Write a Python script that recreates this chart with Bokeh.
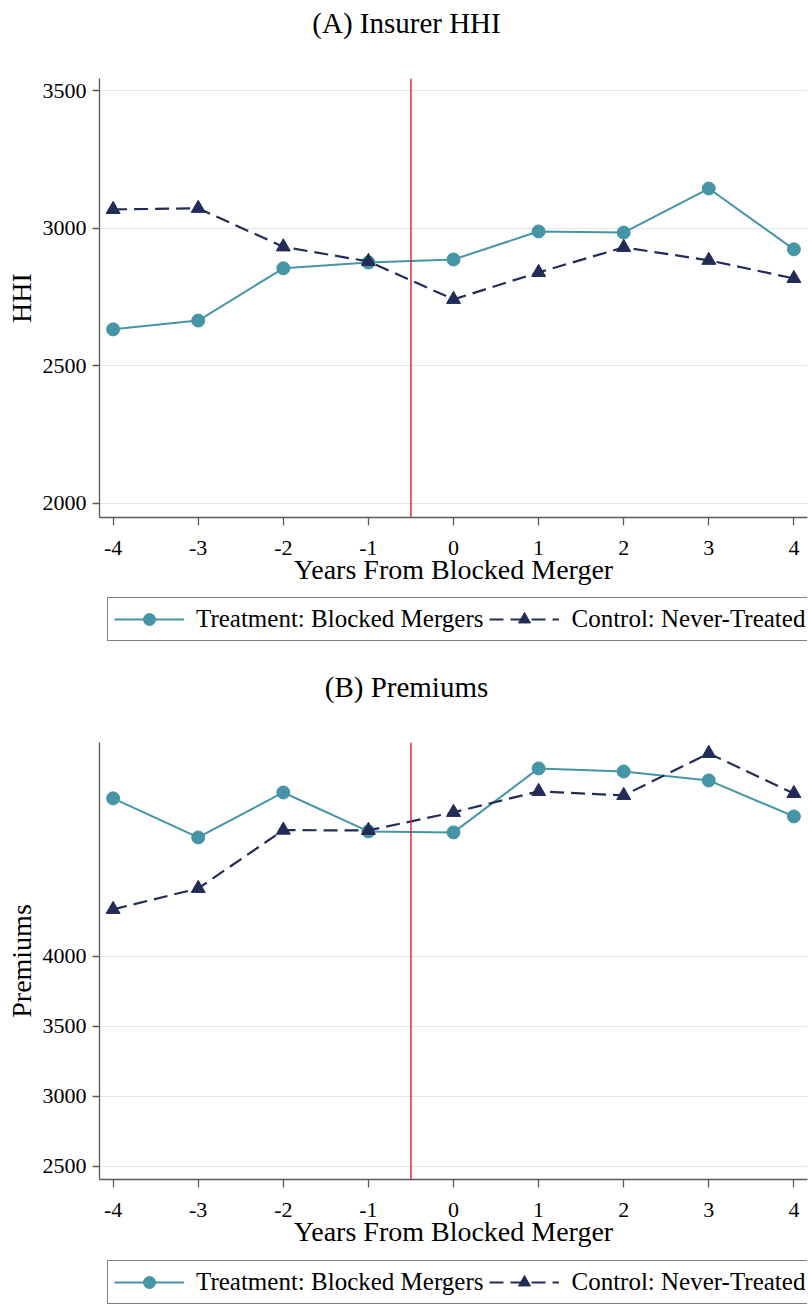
from bokeh.plotting import figure
from bokeh.models import Span, Legend, LegendItem, FixedTicker, Range1d, Label
from bokeh.layouts import column
from bokeh.embed import file_html
from bokeh.resources import INLINE

years = [-4, -3, -2, -1, 0, 1, 2, 3, 4]
year_labels = ["-4", "-3", "-2", "-1", "0", "1", "2", "3", "4"]

hhi_treat = [2633, 2665, 2855, 2876, 2887, 2989, 2985, 3145, 2924]
hhi_ctrl = [3069, 3073, 2933, 2880, 2742, 2840, 2931, 2884, 2818]
hhi_ticks = [2000, 2500, 3000, 3500]

prem_treat = [5129, 4850, 5171, 4893, 4886, 5343, 5321, 5257, 5000]
prem_ctrl = [4336, 4486, 4902, 4900, 5029, 5179, 5150, 5450, 5164]
prem_ticks = [2500, 3000, 3500, 4000]

event_line = -0.5
series_names = ["Treatment: Blocked Mergers", "Control: Never-Treated"]
titles = ["(A) Insurer HHI", "(B) Premiums"]

FONT = "Liberation Serif"
TEAL = "#4595a7"
NAVY = "#212c57"
RED = "#d2202f"
AXIS = "#5a5a5a"
W = 808
LEFT = 99


def add_series(p, xs, yt, yc):
    lt = p.line(xs, yt, line_color=TEAL, line_width=2)
    st = p.scatter(xs, yt, marker="circle", size=13, fill_color=TEAL, line_color=TEAL)
    lc = p.line(xs, yc, line_color=NAVY, line_width=2.2, line_dash="14 7")
    sc = p.scatter(xs, yc, marker="triangle", size=14, fill_color=NAVY, line_color=NAVY)
    return lt, st, lc, sc


def blank_fig(height):
    q = figure(width=W, height=height, output_backend="svg", toolbar_location=None,
               x_range=Range1d(0, 1), y_range=Range1d(0, 1),
               x_axis_type=None, y_axis_type=None,
               min_border_left=LEFT, min_border_right=1, min_border_top=0,
               min_border_bottom=0)
    q.outline_line_color = None
    q.xgrid.visible = False
    q.ygrid.visible = False
    return q


def make_title_fig(text, height, y_from_bottom):
    q = blank_fig(height)
    q.add_layout(Label(x=406 - LEFT, y=y_from_bottom, x_units="screen", y_units="screen",
                       text=text, text_align="center", text_baseline="middle",
                       text_font=FONT, text_font_size="29px", text_color="black"))
    return q


def make_panel(ylabel, yt, yc, ticks, yr, height, mbt, mbb):
    p = figure(width=W, height=height, output_backend="svg", toolbar_location=None,
               x_range=Range1d(-4.16, 4.16), y_range=Range1d(*yr),
               min_border_left=LEFT, min_border_right=1, min_border_top=mbt,
               min_border_bottom=mbb)
    p.outline_line_color = None
    p.background_fill_color = "white"
    p.xgrid.visible = False
    p.ygrid.ticker = FixedTicker(ticks=ticks)
    p.ygrid.grid_line_color = "#e6e6e6"
    p.ygrid.grid_line_width = 1

    p.xaxis.ticker = FixedTicker(ticks=years)
    p.xaxis.major_label_overrides = {y: l for y, l in zip(years, year_labels)}
    p.yaxis.ticker = FixedTicker(ticks=ticks)
    for ax in (p.xaxis, p.yaxis):
        ax.axis_line_color = AXIS
        ax.axis_line_width = 1.3
        ax.major_tick_line_color = AXIS
        ax.major_tick_line_width = 1.3
        ax.minor_tick_line_color = None
        ax.major_tick_in = 0
        ax.major_label_text_font = FONT
        ax.major_label_text_font_size = "22px"
        ax.major_label_text_color = "black"
        ax.axis_label_text_font = FONT
        ax.axis_label_text_font_size = "28px"
        ax.axis_label_text_font_style = "normal"
        ax.axis_label_text_color = "black"
    p.xaxis.major_tick_out = 8
    p.yaxis.major_tick_out = 7
    p.xaxis.major_label_standoff = 15
    p.yaxis.major_label_standoff = 6
    p.xaxis.axis_label = "Years From Blocked Merger"
    p.xaxis.axis_label_standoff = -4
    p.yaxis.axis_label = ylabel
    p.yaxis.axis_label_standoff = 3

    p.add_layout(Span(location=event_line, dimension="height", line_color=RED, line_width=1.4))
    add_series(p, years, yt, yc)
    return p


def make_legend_fig(height, y_from_bottom, yt, yc):
    q = blank_fig(height)
    # series lie outside the visible range; only their legend glyphs show
    lt, st, lc, sc = add_series(q, years, yt, yc)
    leg = Legend(items=[LegendItem(label=series_names[0], renderers=[lt, st]),
                        LegendItem(label=series_names[1], renderers=[lc, sc])],
                 orientation="horizontal", location=(8, y_from_bottom), margin=0,
                 glyph_width=70, glyph_height=30, label_standoff=12, spacing=6,
                 padding=6, border_line_color="black", border_line_width=1,
                 label_text_font=FONT, label_text_font_size="25px",
                 label_text_color="black", background_fill_alpha=1)
    q.add_layout(leg, "center")
    return q


ta = make_title_fig(titles[0], 60, 38)
pa = make_panel("HHI", hhi_treat, hhi_ctrl, hhi_ticks, (1949, 3545), 534, 18, 77)
la = make_legend_fig(62, 15, hhi_treat, hhi_ctrl)
tb = make_title_fig(titles[1], 64, 34)
pb = make_panel("Premiums", prem_treat, prem_ctrl, prem_ticks, (2407, 5528), 536, 22, 77)
lb = make_legend_fig(48, 0, prem_treat, prem_ctrl)

layout = column(ta, pa, la, tb, pb, lb, spacing=0)
open("out.html", "w").write(file_html(layout, INLINE))
